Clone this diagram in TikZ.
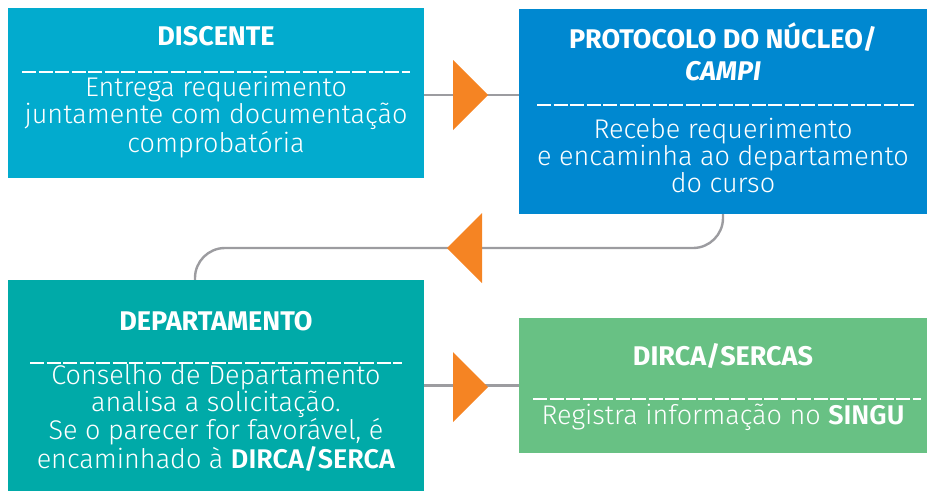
\documentclass[tikz,border=0pt]{standalone}
\usepackage{fontspec}
\setmainfont{Fira Sans Light}[BoldFont={Fira Sans SemiBold}, ItalicFont={Fira Sans Light Italic}, BoldItalicFont={Fira Sans SemiBold Italic}]
\newfontfamily\headfont{Fira Sans Bold}[ItalicFont={Fira Sans Bold Italic}]
\definecolor{cdisc}{HTML}{02ABCE}
\definecolor{cprot}{HTML}{0088D0}
\definecolor{cdep}{HTML}{00AAA8}
\definecolor{cdirca}{HTML}{68C184}
\definecolor{corange}{HTML}{F58423}
\definecolor{cline}{HTML}{9C9CA0}
\begin{document}
\begin{tikzpicture}[x=1pt,y=-1pt,
  box/.style={rectangle, inner sep=0pt, draw=none},
  titletxt/.style={text=white, anchor=base, inner sep=0pt, font=\fontsize{27}{32}\selectfont\headfont, align=center},
  bodytxt/.style={text=white, anchor=base, inner sep=0pt, font=\fontsize{27}{27}\selectfont, align=center},
  dashline/.style={white, line width=1.8pt, dash pattern=on 14pt off 2.5pt},
  conn/.style={cline, line width=2.4pt},
  tri/.style={fill=corange, draw=none}]
\useasboundingbox (0,0) rectangle (927,493);
% boxes
\node[box, fill=cdisc, minimum width=416pt, minimum height=170pt] (disc) at (216,93) {};
\node[box, fill=cprot, minimum width=408pt, minimum height=205pt] (prot) at (723,111.5) {};
\node[box, fill=cdep, minimum width=416pt, minimum height=211pt] (dep) at (216,385.5) {};
\node[box, fill=cdirca, minimum width=408pt, minimum height=135pt] (dirca) at (723,385.5) {};
% texts
\node[titletxt] (t1) at (216,45) {DISCENTE};
\draw[dashline] (22,72) -- (410,72);
\node[bodytxt] (b1) at (216,152) {Entrega requerimento\\juntamente com documentação\\comprobatória};
\node[titletxt] (t2) at (723,80) {PROTOCOLO DO NÚCLEO/\\\textit{CAMPI}};
\draw[dashline] (537,105) -- (916,105);
\node[bodytxt] (b2) at (723,192) {Recebe requerimento\\e encaminha ao departamento\\do curso};
\node[titletxt] (t3) at (216,330) {DEPARTAMENTO};
\draw[dashline] (30,363) -- (402,363);
\node[bodytxt] (b3) at (216,468) {Conselho de Departamento\\analisa a solicitação.\\Se o parecer for favorável, é\\encaminhado à \textbf{DIRCA/SERCA}};
\node[titletxt] (t4) at (723,365) {DIRCA/SERCAS};
\draw[dashline] (533,399) -- (921,399);
\node[bodytxt] (b4) at (723,424) {Registra informação no \textbf{SINGU}};
% connectors
\draw[conn] (disc.east |- 0,95) -- (prot.west |- 0,95);
\coordinate (k1) at (195,248);
\draw[conn, rounded corners=30pt] (prot.south) |- (k1) -- (k1 |- dep.north);
\draw[conn] (dep.east) -- (dirca.west);
% orange triangles
\coordinate (a1) at (488,95);
\coordinate (a2) at (447,248);
\coordinate (a3) at (488,387);
\fill[tri] (a1) -- ++(-35,-35) -- ++(0,70) -- cycle;
\fill[tri] (a2) -- ++(35,-35) -- ++(0,70) -- cycle;
\fill[tri] (a3) -- ++(-35,-35) -- ++(0,70) -- cycle;
\end{tikzpicture}
\end{document}
